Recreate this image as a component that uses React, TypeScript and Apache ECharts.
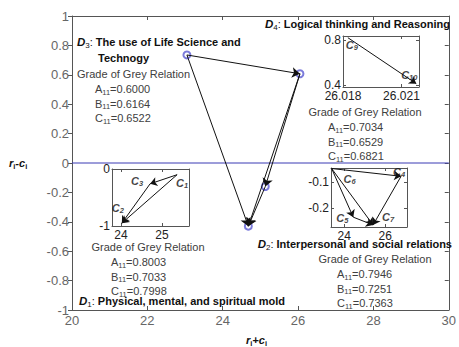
import React, { useEffect, useRef } from 'react';
import * as echarts from 'echarts';

// ---- main relation diagram (r+c vs r-c) ----
const dimSubs = ['1', '2', '3', '4'];
const dimX = [24.68, 25.13, 23.05, 26.05];
const dimY = [-0.43, -0.16, 0.735, 0.607];
const dimLinks: number[][] = [[2, 3], [2, 0], [3, 1], [3, 0], [1, 0]];
const dimTitles = [
  'Physical, mental, and spiritual mold',
  'Interpersonal and social relations',
  'The use of Life Science and',
  'Logical thinking and Reasoning',
];
const d3SecondLine = 'Technogy';

// ---- D1 inset ----
const d1Subs = ['1', '2', '3'];
const d1X = [25.37, 24.02, 24.71];
const d1Y = [-0.1, -0.95, -0.26];
const d1Links: number[][] = [[0, 2], [2, 1], [0, 1]];
const d1XTicks = [24, 25];
const d1YTicks = [-1, 0];

// ---- D2 inset ----
const d2Subs = ['4', '5', '6', '7'];
const d2X = [26.78, 24.44, 23.38, 25.41];
const d2Y = [-0.077, -0.235, -0.047, -0.265];
const d2Links: number[][] = [[2, 0], [2, 1], [2, 3], [0, 3], [1, 3]];
const d2XTicks = [24, 26];
const d2YTicks = [-0.2, -0.1];

// ---- D4 inset ----
const d4Subs = ['9', '10'];
const d4X = [26.01825, 26.02176];
const d4Y = [0.82, 0.41];
const d4Links: number[][] = [[0, 1]];
const d4XTicks = [26.018, 26.021];
const d4YTicks = [0.4, 0.8];

// ---- grade of grey relation ----
const gradeKeys = ['A', 'B', 'C'];
const gradeD1 = ['0.8003', '0.7033', '0.7998'];
const gradeD2 = ['0.7946', '0.7251', '0.7363'];
const gradeD3 = ['0.6000', '0.6164', '0.6522'];
const gradeD4 = ['0.7034', '0.6529', '0.6821'];

// ---- layout (styles only) ----
const FONT = "'Liberation Sans', Arial, sans-serif";
const AX = '#555';
const d1LabelOff = [[5, 8], [-4, -15], [-13, -3]];
const d2LabelOff = [[-2, -4], [-11, 1], [18, 10], [15, -8]];
const d4LabelOff = [[4, 7], [-7, -9]];

const richG: any = {
  n: { fill: '#404040', color: '#404040', fontSize: 11, fontFamily: FONT, lineHeight: 14 },
  s: { fill: '#404040', color: '#404040', fontSize: 7.5, fontFamily: FONT, lineHeight: 9, verticalAlign: 'bottom' },
  di: { fill: '#111', color: '#111', fontSize: 11.5, fontFamily: FONT, fontWeight: 'bold', fontStyle: 'italic', lineHeight: 14 },
  ds: { fill: '#111', color: '#111', fontSize: 8, fontFamily: FONT, lineHeight: 9, verticalAlign: 'bottom' },
  tn: { fill: '#111', color: '#111', fontSize: 11, fontFamily: FONT, lineHeight: 14 },
  tb: { fill: '#111', color: '#111', fontSize: 11, fontFamily: FONT, fontWeight: 'bold', lineHeight: 14 },
  ai: { fill: '#111', color: '#111', fontSize: 11, fontFamily: FONT, fontWeight: 'bold', fontStyle: 'italic', lineHeight: 14 },
  as: { fill: '#111', color: '#111', fontSize: 7.5, fontFamily: FONT, fontWeight: 'bold', lineHeight: 9, verticalAlign: 'bottom' },
};

const critRich: any = {
  c: { color: '#111', fontSize: 11, fontFamily: FONT, fontWeight: 'bold', fontStyle: 'italic', lineHeight: 13 },
  s: { color: '#111', fontSize: 7.5, fontFamily: FONT, fontWeight: 'bold', fontStyle: 'italic', lineHeight: 8, verticalAlign: 'bottom' },
};

// y is the vertical centre of a 14px line
function txt(x: number, y: number, text: string, align = 'left') {
  return {
    type: 'text',
    x,
    y: y - 7,
    z: 100,
    silent: true,
    style: {
      text,
      rich: richG,
      align,
      textAlign: align,
      verticalAlign: 'top',
      textVerticalAlign: 'top',
      fill: '#333',
      font: `11px ${FONT}`,
    },
  };
}

function gradeBlock(title: [number, number, string], x: number, y0: number, vals: string[]) {
  const out: any[] = [txt(title[0], title[1], '{n|Grade of Grey Relation}', title[2])];
  vals.forEach((v, i) => {
    out.push(txt(x, y0 + i * 14.5, `{n|${gradeKeys[i]}}{s|11}{n|=${v}}`));
  });
  return out;
}

function fmt(v: number) {
  return String(Math.round(v * 1000) / 1000);
}

function insetAxes(grid: number, xr: number[], xt: number[], yr: number[], yt: number[]) {
  const line = { show: true, onZero: false, lineStyle: { color: AX, width: 1 } };
  const lab = { color: '#222', fontSize: 12, fontFamily: FONT, formatter: fmt };
  const x = [
    {
      type: 'value', gridIndex: grid, position: 'bottom', min: xr[0], max: xr[1],
      axisLine: line, splitLine: { show: false },
      axisTick: { show: true, inside: true, length: 3, customValues: xt, lineStyle: { color: AX } },
      axisLabel: { ...lab, margin: 3, customValues: xt, showMinLabel: true, showMaxLabel: true },
    },
    {
      type: 'value', gridIndex: grid, position: 'top', min: xr[0], max: xr[1],
      axisLine: line, splitLine: { show: false },
      axisTick: { show: true, inside: true, length: 3, customValues: xt, lineStyle: { color: AX } },
      axisLabel: { show: false },
    },
  ];
  const y = [
    {
      type: 'value', gridIndex: grid, position: 'left', min: yr[0], max: yr[1],
      axisLine: line, splitLine: { show: false },
      axisTick: { show: true, inside: true, length: 3, customValues: yt, lineStyle: { color: AX } },
      axisLabel: { ...lab, margin: 2, customValues: yt, showMinLabel: true, showMaxLabel: true },
    },
    {
      type: 'value', gridIndex: grid, position: 'right', min: yr[0], max: yr[1],
      axisLine: line, splitLine: { show: false },
      axisTick: { show: true, inside: true, length: 3, customValues: yt, lineStyle: { color: AX } },
      axisLabel: { show: false },
    },
  ];
  return { x, y };
}

function arrowSeries(axisIdx: number, xs: number[], ys: number[], links: number[][], size: number) {
  return {
    type: 'lines',
    coordinateSystem: 'cartesian2d',
    xAxisIndex: axisIdx,
    yAxisIndex: axisIdx,
    symbol: ['none', 'arrow'],
    symbolSize: size,
    z: 5,
    lineStyle: { color: '#111', width: 1, opacity: 1, curveness: 0 },
    data: links.map(([a, b]) => ({ coords: [[xs[a], ys[a]], [xs[b], ys[b]]] })),
  };
}

function critLabels(axisIdx: number, xs: number[], ys: number[], subs: string[], offs: number[][]) {
  return {
    type: 'scatter',
    xAxisIndex: axisIdx,
    yAxisIndex: axisIdx,
    symbolSize: 2,
    z: 6,
    itemStyle: { color: 'rgba(0,0,0,0)' },
    data: xs.map((x, i) => ({
      value: [x, ys[i]],
      label: {
        show: true,
        position: 'inside',
        offset: offs[i],
        formatter: `{c|C}{s|${subs[i]}}`,
        rich: critRich,
      },
    })),
  };
}

export default function App() {
  const ref = useRef<HTMLDivElement>(null);
  useEffect(() => {
    if (!ref.current) return;
    document.body.style.margin = '0';
    const chart = echarts.init(ref.current, undefined, { renderer: 'svg' });

    const i1 = insetAxes(1, [23.78, 25.66], d1XTicks, [-1, 0], d1YTicks);
    const i2 = insetAxes(2, [23.35, 27.07], d2XTicks, [-0.273, -0.045], d2YTicks);
    const i3 = insetAxes(3, [26.018, 26.0219], d4XTicks, [0.38, 0.835], d4YTicks);

    const mLine = { onZero: false, lineStyle: { color: AX } };
    const mainX = [
      {
        type: 'value', gridIndex: 0, position: 'bottom', min: 20, max: 30, interval: 2,
        axisLine: mLine, splitLine: { show: false },
        axisTick: { inside: true, length: 4, lineStyle: { color: AX } },
        axisLabel: { color: '#666', fontSize: 13, fontFamily: FONT, margin: 4 },
      },
      {
        type: 'value', gridIndex: 0, position: 'top', min: 20, max: 30, interval: 2,
        axisLine: mLine, splitLine: { show: false },
        axisTick: { inside: true, length: 4, lineStyle: { color: AX } },
        axisLabel: { show: false },
      },
    ];
    const mainY = [
      {
        type: 'value', gridIndex: 0, position: 'left', min: -1, max: 1, interval: 0.2,
        axisLine: mLine, splitLine: { show: false },
        axisTick: { inside: false, length: 4, lineStyle: { color: AX } },
        axisLabel: { color: '#666', fontSize: 13, fontFamily: FONT, margin: 3, formatter: (v: number) => String(Math.round(v * 10) / 10) },
      },
      {
        type: 'value', gridIndex: 0, position: 'right', min: -1, max: 1, interval: 0.2,
        axisLine: mLine, splitLine: { show: false },
        axisTick: { inside: true, length: 4, lineStyle: { color: AX } },
        axisLabel: { show: false },
      },
    ];

    // axis index mapping: main 0,1 ; inset1 2,3 ; inset2 4,5 ; inset3 6,7
    const xAxis = [...mainX, ...i1.x, ...i2.x, ...i3.x];
    const yAxis = [...mainY, ...i1.y, ...i2.y, ...i3.y];

    const graphic: any[] = [
      // axis names
      txt(9, 163, '{ai|r}{as|i}{ai|-c}{as|i}'),
      txt(246, 340, '{ai|r}{as|i}{ai|+c}{as|i}'),
      // D3
      txt(77, 42, `{di|D}{ds|${dimSubs[2]}}{tn|: }{tb|${dimTitles[2]}}`),
      txt(98, 58, `{tb|${d3SecondLine}}`),
      ...gradeBlock([77, 74, 'left'], 95, 89, gradeD3),
      // D4
      txt(450, 24, `{di|D}{ds|${dimSubs[3]}}{tn|: }{tb|${dimTitles[3]}}`, 'right'),
      ...gradeBlock([365, 112, 'center'], 328, 127, gradeD4),
      // D1
      ...gradeBlock([148, 247, 'center'], 111, 262, gradeD1),
      txt(79, 301, `{di|D}{ds|${dimSubs[0]}}{tn|: }{tb|${dimTitles[0]}}`),
      // D2
      txt(452, 244, `{di|D}{ds|${dimSubs[1]}}{tn|: }{tb|${dimTitles[1]}}`, 'right'),
      ...gradeBlock([375, 259, 'center'], 337, 274, gradeD2),
    ];

    const option: any = {
      animation: false,
      backgroundColor: '#fff',
      grid: [
        { left: 72, top: 16, width: 380, height: 294 },
        { left: 112, top: 169, width: 77, height: 57, show: true, backgroundColor: '#fff', borderWidth: 0 },
        { left: 331, top: 168, width: 76, height: 59, show: true, backgroundColor: '#fff', borderWidth: 0 },
        { left: 343, top: 36, width: 76, height: 51, show: true, backgroundColor: '#fff', borderWidth: 0 },
      ],
      xAxis,
      yAxis,
      graphic,
      series: [
        {
          type: 'line',
          xAxisIndex: 0,
          yAxisIndex: 0,
          symbol: 'none',
          lineStyle: { color: '#3a3ab4', width: 1 },
          data: [[20, 0], [30, 0]],
          z: 1,
        },
        arrowSeries(0, dimX, dimY, dimLinks, 8),
        {
          type: 'scatter',
          xAxisIndex: 0,
          yAxisIndex: 0,
          symbol: 'emptyCircle',
          symbolSize: 7,
          z: 4,
          itemStyle: { color: '#5a5ad2', borderWidth: 1 },
          data: dimX.map((x, i) => [x, dimY[i]]),
        },
        arrowSeries(2, d1X, d1Y, d1Links, 7),
        critLabels(2, d1X, d1Y, d1Subs, d1LabelOff),
        arrowSeries(4, d2X, d2Y, d2Links, 7),
        critLabels(4, d2X, d2Y, d2Subs, d2LabelOff),
        arrowSeries(6, d4X, d4Y, d4Links, 7),
        critLabels(6, d4X, d4Y, d4Subs, d4LabelOff),
      ],
    };
    chart.setOption(option);
    return () => chart.dispose();
  }, []);
  return <div ref={ref} style={{ width: 459, height: 347 }} />;
}
